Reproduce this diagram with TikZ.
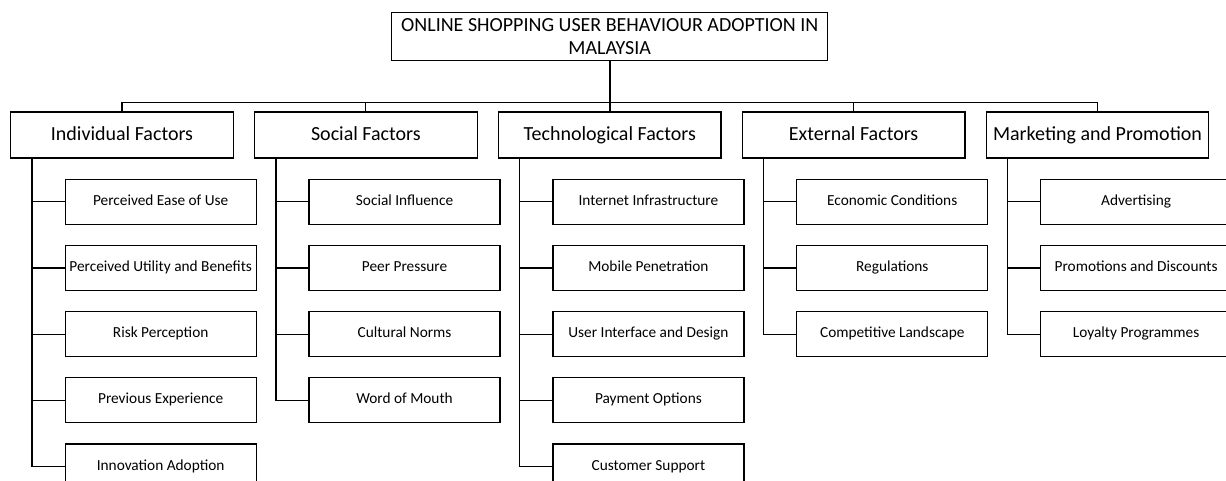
\documentclass[tikz,border=0pt]{standalone}
\usepackage{fontspec}
\setmainfont{Carlito}
\usepackage{tikz}
\usetikzlibrary{positioning}

\begin{document}
\begin{tikzpicture}[x=0.75pt,y=0.75pt,
    cat/.style={rectangle,draw,line width=0.9pt,minimum width=167pt,minimum height=34.5pt,inner sep=1pt,text height=10.5pt,text depth=3pt,font=\fontsize{15}{17.5}\selectfont},
    sub/.style={rectangle,draw,line width=0.9pt,minimum width=143.25pt,minimum height=33.75pt,inner sep=1pt,text height=8pt,text depth=2.5pt,font=\fontsize{11.5}{13.5}\selectfont},
    link/.style={line width=0.9pt}]
            \useasboundingbox (0,0) rectangle (1226,-480);
            \node[cat] (ind) at (122,-135) {Individual Factors};
            \node[cat] (soc) [right=15pt of ind] {Social Factors};
            \node[cat] (tech) [right=15pt of soc] {Technological Factors};
            \node[cat] (ext) [right=15pt of tech] {External Factors};
            \node[cat] (mkt) [right=15pt of ext] {Marketing and Promotion};
            \node[cat,minimum width=327pt,minimum height=36pt,text height=,text depth=,align=center] (root) [above=37.5pt of tech] {ONLINE SHOPPING USER BEHAVIOUR ADOPTION IN\\MALAYSIA};

            \node[sub] (ind1) [below=15pt of ind,xshift=29pt] {Perceived Ease of Use};
            \node[sub] (ind2) [below=15pt of ind1] {Perceived Utility and Benefits};
            \node[sub] (ind3) [below=15pt of ind2] {Risk Perception};
            \node[sub] (ind4) [below=15pt of ind3] {Previous Experience};
            \node[sub] (ind5) [below=15pt of ind4] {Innovation Adoption};

            \node[sub] (soc1) [below=15pt of soc,xshift=29pt] {Social Influence};
            \node[sub] (soc2) [below=15pt of soc1] {Peer Pressure};
            \node[sub] (soc3) [below=15pt of soc2] {Cultural Norms};
            \node[sub] (soc4) [below=15pt of soc3] {Word of Mouth};

            \node[sub] (tech1) [below=15pt of tech,xshift=29pt] {Internet Infrastructure};
            \node[sub] (tech2) [below=15pt of tech1] {Mobile Penetration};
            \node[sub] (tech3) [below=15pt of tech2] {User Interface and Design};
            \node[sub] (tech4) [below=15pt of tech3] {Payment Options};
            \node[sub] (tech5) [below=15pt of tech4] {Customer Support};

            \node[sub] (ext1) [below=15pt of ext,xshift=29pt] {Economic Conditions};
            \node[sub] (ext2) [below=15pt of ext1] {Regulations};
            \node[sub] (ext3) [below=15pt of ext2] {Competitive Landscape};

            \node[sub] (mkt1) [below=15pt of mkt,xshift=29pt] {Advertising};
            \node[sub] (mkt2) [below=15pt of mkt1] {Promotions and Discounts};
            \node[sub] (mkt3) [below=15pt of mkt2] {Loyalty Programmes};

            \coordinate (bus) at ([yshift=6.75pt]tech.north);
            \coordinate (indt) at ([xshift=16.5pt]ind.south west);
            \coordinate (soct) at ([xshift=16.5pt]soc.south west);
            \coordinate (techt) at ([xshift=16.5pt]tech.south west);
            \coordinate (extt) at ([xshift=16.5pt]ext.south west);
            \coordinate (mktt) at ([xshift=16.5pt]mkt.south west);

            \draw[line width=1.5pt](root) -- (tech);
            \draw[link](ind.north) |- (bus) -| (mkt.north);
            \draw[link](soc.north) -- (soc.north |- bus);
            \draw[link](ext.north) -- (ext.north |- bus);

            \draw[link](indt) |- (ind5);
            \draw[link](ind1.west) -- (ind1.west -| indt);
            \draw[link](ind2.west) -- (ind2.west -| indt);
            \draw[link](ind3.west) -- (ind3.west -| indt);
            \draw[link](ind4.west) -- (ind4.west -| indt);

            \draw[link](soct) |- (soc4);
            \draw[link](soc1.west) -- (soc1.west -| soct);
            \draw[link](soc2.west) -- (soc2.west -| soct);
            \draw[link](soc3.west) -- (soc3.west -| soct);

            \draw[link](techt) |- (tech5);
            \draw[link](tech1.west) -- (tech1.west -| techt);
            \draw[link](tech2.west) -- (tech2.west -| techt);
            \draw[link](tech3.west) -- (tech3.west -| techt);
            \draw[link](tech4.west) -- (tech4.west -| techt);

            \draw[link](extt) |- (ext3);
            \draw[link](ext1.west) -- (ext1.west -| extt);
            \draw[link](ext2.west) -- (ext2.west -| extt);

            \draw[link](mktt) |- (mkt3);
            \draw[link](mkt1.west) -- (mkt1.west -| mktt);
            \draw[link](mkt2.west) -- (mkt2.west -| mktt);
        \end{tikzpicture}
\end{document}
